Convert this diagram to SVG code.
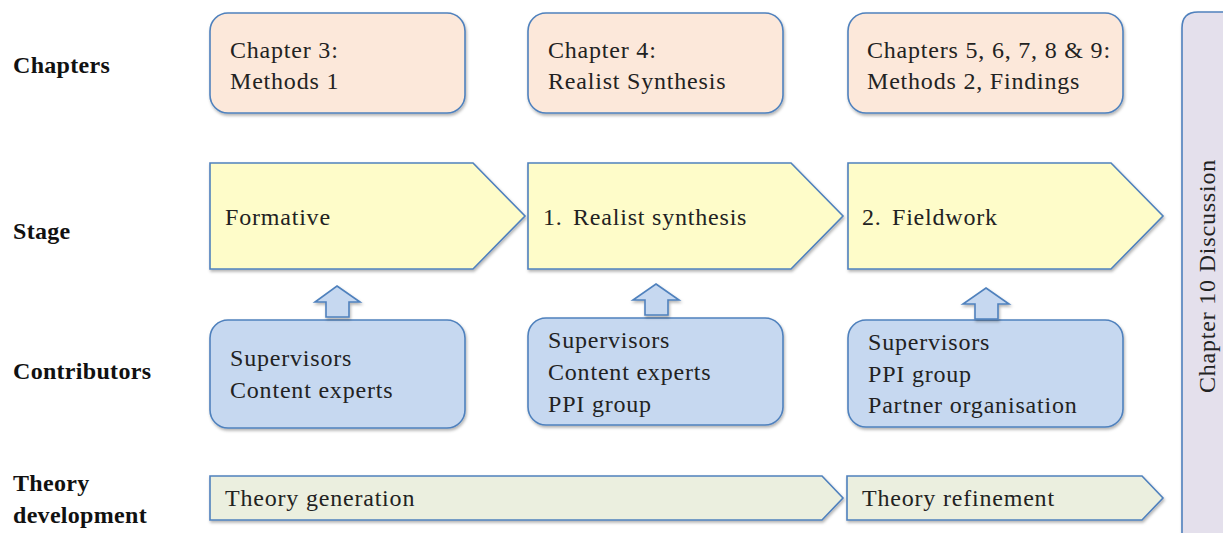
<svg xmlns="http://www.w3.org/2000/svg" width="1223" height="533" viewBox="0 0 1223 533">
  <defs>
    <filter id="shadow" x="-10%" y="-10%" width="125%" height="135%">
      <feDropShadow dx="1" dy="2" stdDeviation="1.5" flood-color="#000" flood-opacity="0.3"/>
    </filter>
    <style>
      .lbl { font-family: "Liberation Serif", serif; font-weight: bold; font-size: 24px; letter-spacing: 0.3px; fill: #111; }
      .txt { font-family: "Liberation Serif", serif; font-size: 24px; letter-spacing: 0.8px; fill: #222; }
      .shape { stroke: #4f81bd; stroke-width: 1.6; filter: url(#shadow); }
      .chap { fill: #fce8da; }
      .stage { fill: #fefcc9; }
      .contrib { fill: #c6d8f0; }
      .theory { fill: #ebefdf; }
      .disc { fill: #e4e0ec; }
      .up { fill: #c6d8f0; stroke: #4f81bd; stroke-width: 1.6; filter: url(#shadow); }
    </style>
  </defs>
  <rect width="1223" height="533" fill="#ffffff"/>

  <!-- Row labels -->
  <g id="row-labels">
    <text class="lbl" x="13" y="73">Chapters</text>
    <text class="lbl" x="13" y="239">Stage</text>
    <text class="lbl" x="13" y="379">Contributors</text>
    <text class="lbl" x="13" y="491">Theory</text>
    <text class="lbl" x="13" y="523">development</text>
  </g>

  <!-- Chapter boxes -->
  <g id="chapter-3">
    <rect class="shape chap" x="210" y="13" width="255" height="100" rx="18"/>
    <text class="txt" x="230" y="58">Chapter 3:</text>
    <text class="txt" x="230" y="89">Methods 1</text>
  </g>
  <g id="chapter-4">
    <rect class="shape chap" x="528" y="13" width="255" height="100" rx="18"/>
    <text class="txt" x="548" y="58">Chapter 4:</text>
    <text class="txt" x="548" y="89">Realist Synthesis</text>
  </g>
  <g id="chapters-5-9">
    <rect class="shape chap" x="848" y="13" width="275" height="100" rx="18"/>
    <text class="txt" x="867" y="58">Chapters 5, 6, 7, 8 &amp; 9:</text>
    <text class="txt" x="867" y="89">Methods 2, Findings</text>
  </g>

  <!-- Stage chevrons -->
  <g id="stage-formative">
    <path class="shape stage" d="M210,163 H473 L525,216 L473,269 H210 Z"/>
    <text class="txt" x="225" y="225">Formative</text>
  </g>
  <g id="stage-realist">
    <path class="shape stage" d="M528,163 H791 L843,216 L791,269 H528 Z"/>
    <text class="txt" x="543" y="225">1.<tspan x="573">Realist synthesis</tspan></text>
  </g>
  <g id="stage-fieldwork">
    <path class="shape stage" d="M848,163 H1111 L1163,216 L1111,269 H848 Z"/>
    <text class="txt" x="862" y="225">2.<tspan x="892">Fieldwork</tspan></text>
  </g>

  <!-- Contributor boxes -->
  <g id="contrib-formative">
    <rect class="shape contrib" x="210" y="320" width="255" height="108" rx="18"/>
    <text class="txt" x="230" y="366">Supervisors</text>
    <text class="txt" x="230" y="398">Content experts</text>
  </g>
  <g id="contrib-realist">
    <rect class="shape contrib" x="528" y="318" width="255" height="107" rx="18"/>
    <text class="txt" x="548" y="348">Supervisors</text>
    <text class="txt" x="548" y="380">Content experts</text>
    <text class="txt" x="548" y="412">PPI group</text>
  </g>
  <g id="contrib-fieldwork">
    <rect class="shape contrib" x="848" y="320" width="275" height="107" rx="18"/>
    <text class="txt" x="868" y="350">Supervisors</text>
    <text class="txt" x="868" y="382">PPI group</text>
    <text class="txt" x="868" y="413">Partner organisation</text>
  </g>

  <!-- Theory development chevrons -->
  <g id="theory-generation">
    <path class="shape theory" d="M210,476 H822 L843,498 L822,520 H210 Z"/>
    <text class="txt" x="225" y="506">Theory generation</text>
  </g>
  <g id="theory-refinement">
    <path class="shape theory" d="M847,476 H1142 L1163,498 L1142,520 H847 Z"/>
    <text class="txt" x="862" y="506">Theory refinement</text>
  </g>

  <!-- Discussion band -->
  <g id="chapter-10">
    <path class="shape disc" d="M1182,545 V28 Q1182,12 1198,12 H1240 V545 Z"/>
    <text class="txt" transform="translate(1215,276) rotate(-90)" text-anchor="middle" fill="#333">Chapter 10 Discussion</text>
  </g>

  <!-- Connectors: contributors feed each stage -->
  <g id="connectors">
    <path class="up" d="M337,286 L360,302 H349 V317 H326 V302 H315 Z"/>
    <path class="up" d="M656,284 L679,300 H668 V315 H645 V300 H633 Z"/>
    <path class="up" d="M986,288 L1009,304 H998 V319 H975 V304 H963 Z"/>
  </g>
</svg>
